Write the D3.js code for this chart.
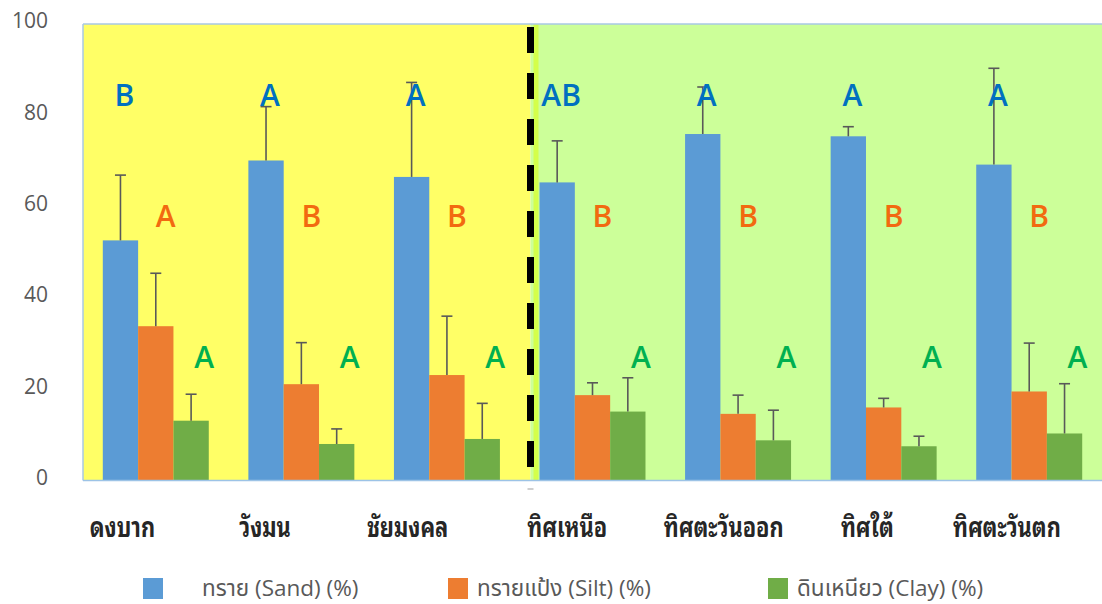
<!DOCTYPE html>
<html>
<head>
<meta charset="utf-8">
<script src="https://cdn.jsdelivr.net/npm/d3@7"></script>
<style>
  html, body { margin: 0; padding: 0; background: #fff; }
  svg { display: block; }
</style>
</head>
<body>
<svg id="chart" width="1102" height="604"></svg>
<script>
// Soil texture by site (mean %, upper error = SD)
const categories = ["ดงบาก", "วังมน", "ชัยมงคล", "ทิศเหนือ", "ทิศตะวันออก", "ทิศใต้", "ทิศตะวันตก"];
const seriesNames = ["ทราย (Sand) (%)", "ทรายแป้ง (Silt) (%)", "ดินเหนียว (Clay) (%)"];
const sand     = [52.6, 70.1, 66.5, 65.3, 75.9, 75.4, 69.2];
const sandErr  = [14.3, 11.8, 20.7,  9.1, 10.3,  2.1, 21.1];
const silt     = [33.8, 21.1, 23.1, 18.7, 14.6, 16.0, 19.5];
const siltErr  = [11.6,  9.1, 12.9,  2.7,  4.1,  2.0, 10.6];
const clay     = [13.1,  8.0,  9.1, 15.1,  8.8,  7.5, 10.3];
const clayErr  = [ 5.8,  3.3,  7.8,  7.4,  6.6,  2.2, 10.9];
const sandLetters = ["B", "A", "A", "AB", "A", "A", "A"];
const siltLetters = ["A", "B", "B", "B", "B", "B", "B"];
const clayLetters = ["A", "A", "A", "A", "A", "A", "A"];
const yTicks = [0, 20, 40, 60, 80, 100];

const colors = ["#5B9BD5", "#ED7D31", "#70AD47"];
const letterColors = ["#0070C0", "#F26A10", "#00B050"];

const series = [
  { name: seriesNames[0], values: sand, err: sandErr, letters: sandLetters },
  { name: seriesNames[1], values: silt, err: siltErr, letters: siltLetters },
  { name: seriesNames[2], values: clay, err: clayErr, letters: clayLetters }
];

const svg = d3.select("#chart");
const plot = { left: 83, right: 1102, top: 24, bottom: 480.5 };

const x0 = d3.scaleBand().domain(categories).range([plot.left, plot.right])
  .paddingInner(0.272).paddingOuter(0.136);
const x1 = d3.scaleBand().domain(d3.range(series.length)).range([0, x0.bandwidth()]);
const y = d3.scaleLinear().domain([0, 100]).range([plot.bottom, plot.top]);

// Background zones: first three sites / four directions
const splitX = 530.5;
svg.append("rect").attr("x", plot.left).attr("y", plot.top)
  .attr("width", splitX - plot.left).attr("height", plot.bottom - plot.top)
  .attr("fill", "#FFFF66");
svg.append("rect").attr("x", splitX).attr("y", plot.top)
  .attr("width", plot.right - splitX).attr("height", plot.bottom - plot.top)
  .attr("fill", "#CCFF99");
svg.append("rect").attr("x", splitX + 3).attr("y", plot.top)
  .attr("width", 5).attr("height", plot.bottom - plot.top)
  .attr("fill", "#D4FF4A");

// Plot frame
svg.append("line").attr("x1", plot.left).attr("x2", plot.right)
  .attr("y1", plot.top).attr("y2", plot.top)
  .attr("stroke", "#A9C8E4").attr("stroke-width", 1.5);
svg.append("line").attr("x1", plot.left).attr("x2", plot.left)
  .attr("y1", plot.top).attr("y2", plot.bottom)
  .attr("stroke", "#A9C8E4").attr("stroke-width", 1.5);

// Y axis labels
svg.append("g").selectAll("text").data(yTicks).join("text")
  .attr("x", 48).attr("y", d => y(d) - 3)
  .attr("dy", "0.35em")
  .attr("text-anchor", "end")
  .attr("font-family", "'Open Sans', 'Noto Sans', sans-serif")
  .attr("font-size", 21)
  .attr("fill", "#595959")
  .text(d => d);

// Bars
const groups = svg.append("g").selectAll("g").data(categories).join("g")
  .attr("transform", d => `translate(${x0(d)},0)`);

series.forEach((s, si) => {
  groups.append("rect")
    .attr("x", x1(si))
    .attr("width", x1.bandwidth())
    .attr("y", (d, i) => y(s.values[i]))
    .attr("height", (d, i) => y(0) - y(s.values[i]))
    .attr("fill", colors[si]);
});

// Upper error bars
series.forEach((s, si) => {
  const cx = x1(si) + x1.bandwidth() / 2;
  groups.append("line")
    .attr("x1", cx).attr("x2", cx)
    .attr("y1", (d, i) => y(s.values[i]))
    .attr("y2", (d, i) => y(s.values[i] + s.err[i]))
    .attr("stroke", "#595959").attr("stroke-width", 1.6);
  groups.append("line")
    .attr("x1", cx - 5.5).attr("x2", cx + 5.5)
    .attr("y1", (d, i) => y(s.values[i] + s.err[i]))
    .attr("y2", (d, i) => y(s.values[i] + s.err[i]))
    .attr("stroke", "#595959").attr("stroke-width", 1.6);
});

// X baseline
svg.append("line").attr("x1", plot.left).attr("x2", plot.right)
  .attr("y1", plot.bottom).attr("y2", plot.bottom)
  .attr("stroke", "#9DC3E6").attr("stroke-width", 1.5);
svg.append("line").attr("x1", splitX - 3).attr("x2", splitX + 3)
  .attr("y1", 489).attr("y2", 489)
  .attr("stroke", "#BFBFBF").attr("stroke-width", 1.5);

// Significance letters above each series
const letterLevel = [84.5, 57.8, 27];
const letterShift = [4, 10, 13];
series.forEach((s, si) => {
  groups.append("text")
    .attr("x", x1(si) + x1.bandwidth() / 2 + letterShift[si])
    .attr("y", y(letterLevel[si]))
    .attr("dy", "0.36em")
    .attr("text-anchor", "middle")
    .attr("font-family", "'Open Sans', 'Noto Sans', sans-serif")
    .attr("font-size", 30)
    .attr("font-weight", 600)
    .attr("fill", letterColors[si])
    .text((d, i) => s.letters[i]);
});

// Dashed divider between sites and directions
svg.append("line").attr("x1", splitX).attr("x2", splitX)
  .attr("y1", 27).attr("y2", plot.bottom)
  .attr("stroke", "#000").attr("stroke-width", 7)
  .attr("stroke-dasharray", "26,20");

// Category labels (narrow bold Thai face)
const catShift = [2, -1, -4, 10, 21, 19, 13];
svg.append("g").selectAll("text").data(categories).join("text")
  .attr("transform", (d, i) =>
    `translate(${x0(d) + x1(0) + x1.bandwidth() / 2 + catShift[i]},537) scale(0.78,1)`)
  .attr("text-anchor", "middle")
  .attr("font-family", "'Noto Sans Thai Looped', 'Noto Serif Thai', 'Noto Sans Thai', sans-serif")
  .attr("font-size", 28)
  .attr("font-weight", "bold")
  .attr("fill", "#262626")
  .text(d => d);

// Legend
const legendX = [143, 448, 768];
const legend = svg.append("g").selectAll("g").data(series).join("g")
  .attr("transform", (d, i) => `translate(${legendX[i]},578)`);
legend.append("rect").attr("width", 20).attr("height", 21)
  .attr("fill", (d, i) => colors[i]);
legend.append("text")
  .attr("x", (d, i) => i === 0 ? 59 : 29)
  .attr("y", 10).attr("dy", "0.35em")
  .attr("font-family", "'Open Sans', 'Noto Sans Thai', 'Noto Sans', sans-serif")
  .attr("font-size", 22.5)
  .attr("fill", "#595959")
  .text(d => d.name);
</script>
</body>
</html>
